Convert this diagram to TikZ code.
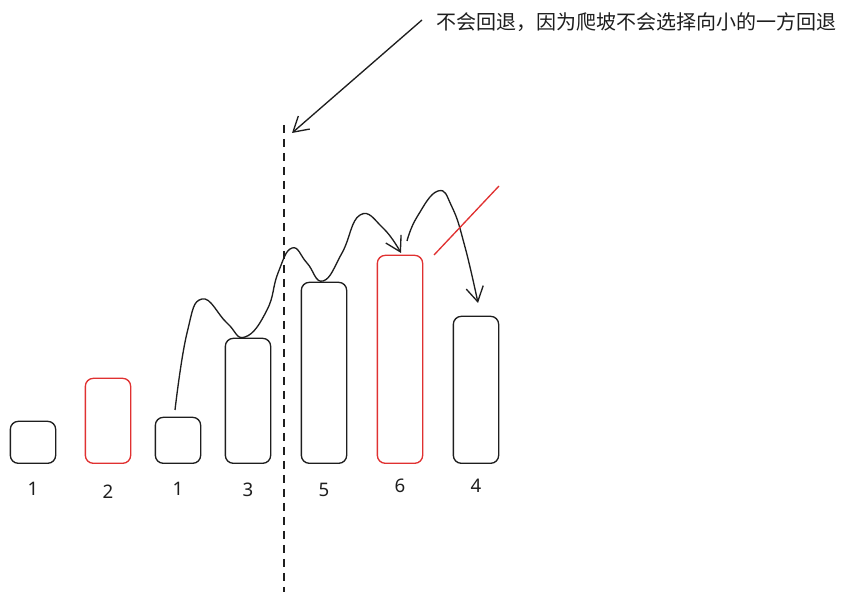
\documentclass[tikz,border=0pt]{standalone}
\usepackage{fontspec}
\newfontfamily\cjk{Noto Sans CJK SC}
\newfontfamily\digits{Noto Sans}
\usetikzlibrary{arrows.meta,positioning}
\definecolor{ink}{HTML}{1E1E1E}
\definecolor{hot}{HTML}{E03131}

\begin{document}
\begin{tikzpicture}[x=0.75pt,y=0.75pt,>={Straight Barb[length=11pt,width=13pt]},
  line width=1pt,draw=ink,
  bar/.style={draw=ink,line width=1pt,rounded corners=6pt,inner sep=0pt,minimum width=34pt,anchor=south},
  num/.style={inner sep=0pt,font=\digits\fontsize{14}{16}\selectfont,text=ink},
  climb/.style={->,line width=1pt,ink}]
  \useasboundingbox (0,0) rectangle (847,600);
  % bars
  \node[bar,minimum height=31.5pt]            (b1) at (33,136)  {};
  \node[bar,minimum height=63.75pt,draw=hot]  (b2) at (108,136) {};
  \node[bar,minimum height=34.5pt]            (b3) at (178,136) {};
  \node[bar,minimum height=93.75pt]           (b4) at (248,136) {};
  \node[bar,minimum height=135.75pt]          (b5) at (324,136) {};
  \node[bar,minimum height=156pt,draw=hot]    (b6) at (400,136) {};
  \node[bar,minimum height=110.25pt]          (b7) at (476,136) {};
  % values
  \node[num] (n1) [below=13pt of b1] {1};
  \node[num] (n2) [below=15pt of b2] {2};
  \node[num] (n3) [below=13pt of b3] {1};
  \node[num] (n4) [below=14pt of b4] {3};
  \node[num] (n5) [below=14pt of b5] {5};
  \node[num] (n6) [below=11pt of b6] {6};
  \node[num] (n7) [below=11pt of b7] {4};
  % note
  \node[anchor=west,inner sep=0pt,text=ink,font=\cjk\fontsize{15}{18}\selectfont]
        (note) at (436,578) {不会回退，因为爬坡不会选择向小的一方回退};
  \coordinate (top)  at (284,475);
  \coordinate (foot) at (284,8);
  \coordinate (tail) at (422,580);
  \coordinate (hit)  at (292,467);
  \draw[dash pattern=on 6pt off 4.5pt] (top) -- (foot);
  \draw[climb] (tail) -- (hit);
  % climbing path
  \coordinate (s1) at (175,190);
  \coordinate (t1) at (401,347);
  \coordinate (s2) at (407,359);
  \coordinate (t2) at (478,297);
  \draw[climb] plot[smooth,tension=0.8] coordinates {(s1) (187,267) (202,301) (227,277)
        (245,263) (267,290) (278,327) (292,352) (307,337) (323,319) (342,347)
        (360,385) (383,372) (t1)};
  \draw[climb] plot[smooth,tension=0.8] coordinates {(s2) (417,383) (438,409) (452,393)
        (465,353) (t2)};
  \coordinate (c1) at (434,345);
  \coordinate (c2) at (499,414);
  \draw[hot] (c1) -- (c2);
\end{tikzpicture}
\end{document}
